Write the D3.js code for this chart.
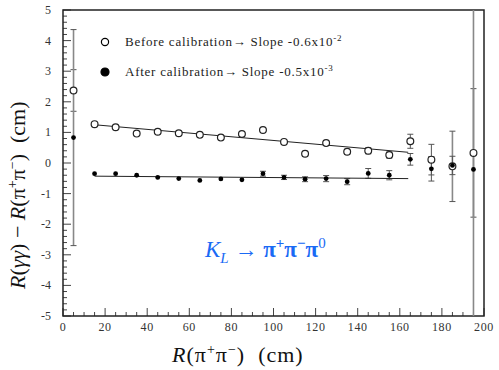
<!DOCTYPE html>
<html>
<head>
<meta charset="utf-8">
<script src="https://cdn.jsdelivr.net/npm/d3@7"></script>
<style>
  body { margin: 0; background: #fff; }
</style>
</head>
<body>
<div id="chart"></div>
<script>
// bins in R(pi+pi-) and the two calibrations
const rBins = [5, 15, 25, 35, 45, 55, 65, 75, 85, 95, 105, 115, 125, 135, 145, 155, 165, 175, 185, 195];
const beforeVals = [2.37, 1.27, 1.17, 0.96, 1.02, 0.97, 0.92, 0.83, 0.95, 1.08, 0.69, 0.30, 0.65, 0.37, 0.40, 0.26, 0.71, 0.11, -0.11, 0.33];
const beforeErr = [0.68, 0.04, 0.04, 0.05, 0.04, 0.04, 0.05, 0.05, 0.05, 0.06, 0.06, 0.08, 0.07, 0.08, 0.1, 0.1, 0.23, 0.5, 1.15, 2.1];
const afterVals = [0.83, -0.35, -0.35, -0.40, -0.47, -0.51, -0.57, -0.52, -0.55, -0.35, -0.47, -0.53, -0.51, -0.61, -0.34, -0.40, 0.12, -0.19, -0.08, -0.21];
const afterErr = [3.53, 0.04, 0.04, 0.04, 0.04, 0.05, 0.05, 0.05, 0.06, 0.08, 0.07, 0.08, 0.1, 0.1, 0.16, 0.15, 0.19, 0.4, 0.3, 6.0];

// straight line fits
const fitRange = [15, 164];
const beforeFit = [1.25, 0.35];
const afterFit = [-0.43, -0.51];

const legendLabels = ["Before calibration", "After calibration"];
const legendSlopes = ["Slope -0.6x10", "Slope -0.5x10"];
const legendExps = ["-2", "-3"];

const xTicks = [0, 20, 40, 60, 80, 100, 120, 140, 160, 180, 200];
const yTicks = [-5, -4, -3, -2, -1, 0, 1, 2, 3, 4, 5];

const serif = '"Liberation Serif", "DejaVu Serif", serif';

const margin = { top: 10, right: 15, bottom: 54, left: 63 };
const width = 499 - margin.left - margin.right;
const height = 370 - margin.top - margin.bottom;

const x = d3.scaleLinear().domain([0, 200]).range([0, width]);
const y = d3.scaleLinear().domain([-5, 5]).range([height, 0]);

const root = d3.select("#chart")
    .append("svg")
    .attr("width", 499)
    .attr("height", 370)
    .style("font-family", serif);

const svg = root.append("g")
    .attr("transform", `translate(${margin.left},${margin.top})`);

svg.append("clipPath").attr("id", "clip")
    .append("rect").attr("width", width).attr("height", height);

// ticks, drawn inward like the original
const axisColor = "#444";
const xMinor = d3.range(0, 201, 5);
svg.append("g").selectAll("line")
    .data(xMinor)
    .enter().append("line")
    .attr("x1", d => x(d)).attr("x2", d => x(d))
    .attr("y1", height)
    .attr("y2", d => height - (d % 20 === 0 ? 8 : 4))
    .attr("stroke", axisColor);

const yMinor = d3.range(-5, 5.01, 0.2);
svg.append("g").selectAll("line")
    .data(yMinor)
    .enter().append("line")
    .attr("y1", d => y(d)).attr("y2", d => y(d))
    .attr("x1", 0)
    .attr("x2", d => Math.abs(d - Math.round(d)) < 0.01 ? 8 : 4)
    .attr("stroke", axisColor);

svg.append("rect")
    .attr("width", width).attr("height", height)
    .attr("fill", "none")
    .attr("stroke", "#222")
    .attr("stroke-width", 1.5);

svg.append("g").selectAll("text")
    .data(xTicks)
    .enter().append("text")
    .attr("x", d => x(d))
    .attr("y", height + 15)
    .attr("text-anchor", "middle")
    .style("font-size", "12px")
    .style("letter-spacing", "0.6px")
    .style("fill", "#333")
    .text(d => d);

svg.append("g").selectAll("text")
    .data(yTicks)
    .enter().append("text")
    .attr("x", -12)
    .attr("y", d => y(d) + 4)
    .attr("text-anchor", "end")
    .style("font-size", "12px")
    .style("fill", "#333")
    .text(d => d);

// error bars
function errorBars(vals, errs) {
    const g = svg.append("g").attr("clip-path", "url(#clip)");
    const data = rBins.map((r, i) => ({ r: r, v: vals[i], e: errs[i] }));
    g.selectAll(".bar")
        .data(data)
        .enter().append("line")
        .attr("x1", d => x(d.r)).attr("x2", d => x(d.r))
        .attr("y1", d => y(d.v - d.e)).attr("y2", d => y(d.v + d.e))
        .attr("stroke", d => d.e > 1 ? "#888" : "#555")
        .attr("stroke-width", d => d.e > 1 ? 1.6 : 1);
    g.selectAll(".cap")
        .data(data.flatMap(d => [d.v - d.e, d.v + d.e].map(v => ({ r: d.r, v: v, e: d.e }))))
        .enter().append("line")
        .attr("x1", d => x(d.r) - 3).attr("x2", d => x(d.r) + 3)
        .attr("y1", d => y(d.v)).attr("y2", d => y(d.v))
        .attr("stroke", "#555")
        .attr("opacity", d => d.e > 0.06 ? 1 : 0);
}
errorBars(beforeVals, beforeErr);
errorBars(afterVals, afterErr);

// fit lines
[beforeFit, afterFit].forEach(f => {
    svg.append("line")
        .attr("x1", x(fitRange[0])).attr("x2", x(fitRange[1]))
        .attr("y1", y(f[0])).attr("y2", y(f[1]))
        .attr("stroke", "#222")
        .attr("stroke-width", 1);
});

svg.append("g").selectAll("circle")
    .data(rBins)
    .enter().append("circle")
    .attr("cx", d => x(d))
    .attr("cy", (d, i) => y(beforeVals[i]))
    .attr("r", 3.4)
    .attr("fill", "#fff")
    .attr("stroke", "#222")
    .attr("stroke-width", 1.2);

svg.append("g").selectAll("circle")
    .data(rBins)
    .enter().append("circle")
    .attr("cx", d => x(d))
    .attr("cy", (d, i) => y(afterVals[i]))
    .attr("r", 2.4)
    .attr("fill", "#000");

// legend
const legend = root.append("g");
legendLabels.forEach((lab, i) => {
    const ly = 42 + i * 30;
    legend.append("circle")
        .attr("cx", 105).attr("cy", ly)
        .attr("r", i === 0 ? 3.6 : 4)
        .attr("fill", i === 0 ? "#fff" : "#000")
        .attr("stroke", "#000")
        .attr("stroke-width", 1.2);
    const t = legend.append("text")
        .attr("x", 125).attr("y", ly + 4)
        .style("font-size", "13px")
        .style("letter-spacing", "0.75px")
        .style("fill", "#222");
    t.append("tspan").text(lab + "\u2192 " + legendSlopes[i]);
    t.append("tspan").attr("dy", -5).style("font-size", "9px").text(legendExps[i]);
});

// axis titles
const xt = root.append("text")
    .attr("x", 172).attr("y", 362)
    .style("font-size", "22px")
    .style("letter-spacing", "1px")
    .style("fill", "#111");
xt.append("tspan").style("font-style", "italic").text("R");
xt.append("tspan").text("(\u03c0");
xt.append("tspan").attr("dy", -8).style("font-size", "14px").text("+");
xt.append("tspan").attr("dy", 8).text("\u03c0");
xt.append("tspan").attr("dy", -8).style("font-size", "14px").text("\u2212");
xt.append("tspan").attr("dy", 8).text(")\u00a0\u00a0(cm)");

const yt = root.append("text")
    .attr("transform", "translate(25,289) rotate(-90)")
    .style("font-size", "22px")
    .style("fill", "#111");
yt.append("tspan").style("font-style", "italic").text("R");
yt.append("tspan").text("(");
yt.append("tspan").style("font-style", "italic").text("\u03b3\u03b3");
yt.append("tspan").text(") \u2212 ");
yt.append("tspan").style("font-style", "italic").text("R");
yt.append("tspan").text("(\u03c0");
yt.append("tspan").attr("dy", -8).style("font-size", "14px").text("+");
yt.append("tspan").attr("dy", 8).text("\u03c0");
yt.append("tspan").attr("dy", -8).style("font-size", "14px").text("\u2212");
yt.append("tspan").attr("dy", 8).text(")\u00a0\u00a0(cm)");

// decay annotation
const kl = root.append("text")
    .attr("x", 205).attr("y", 257)
    .style("font-size", "23px")
    .style("fill", "#1a6af5");
kl.append("tspan").style("font-style", "italic").text("K");
kl.append("tspan").attr("dy", 6).style("font-size", "15px").style("font-style", "italic").text("L");
kl.append("tspan").attr("dy", -6).text(" \u2192 ");
kl.append("tspan").style("font-weight", "bold").text("\u03c0");
kl.append("tspan").attr("dy", -9).style("font-size", "15px").style("font-weight", "bold").text("+");
kl.append("tspan").attr("dy", 9).style("font-weight", "bold").text("\u03c0");
kl.append("tspan").attr("dy", -9).style("font-size", "15px").style("font-weight", "bold").text("\u2212");
kl.append("tspan").attr("dy", 9).style("font-weight", "bold").text("\u03c0");
kl.append("tspan").attr("dy", -9).style("font-size", "15px").text("0");
</script>
</body>
</html>
